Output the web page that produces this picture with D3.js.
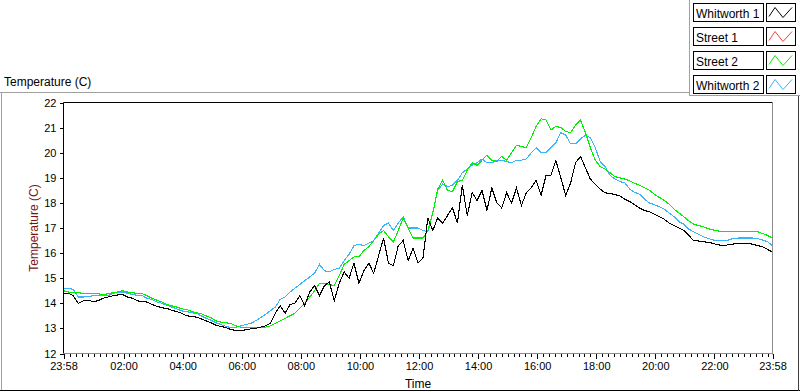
<!DOCTYPE html>
<html>
<head>
<meta charset="utf-8">
<script src="https://cdn.jsdelivr.net/npm/d3@7"></script>
<style>
  html, body { margin: 0; padding: 0; background: #fff; }
  svg { display: block; }
  .tick text { font-family: "Liberation Sans", Arial, sans-serif; font-size: 11px; fill: #000; }
</style>
</head>
<body>
<svg id="chart" width="800" height="392"></svg>
<script>
"use strict";

// ---- data (10 minute samples from 23:58) ----
const start_label = "23:58";
const step_minutes = 10;

const whitworth1 = [
  14.4, 14.4, 14.3, 14.0, 14.1, 14.12, 14.07, 14.1, 14.2, 14.25,
  14.3, 14.33, 14.35, 14.25, 14.2, 14.1, 14.07, 14.05, 13.95, 13.88,
  13.82, 13.8, 13.72, 13.67, 13.6, 13.5, 13.48, 13.45, 13.38, 13.3,
  13.22, 13.12, 13.08, 13.03, 12.95, 12.92, 12.9, 12.95, 12.98, 13.0,
  13.05, 13.1, 13.2, 13.6, 13.9, 13.6, 13.95, 14.0, 14.3, 13.9,
  14.45, 14.7, 14.3, 14.7, 14.85, 14.1, 14.8, 15.25, 15.0, 15.6,
  14.8, 15.3, 15.6, 15.2, 15.9, 16.6, 15.6, 15.5, 16.3, 16.5,
  15.7, 16.2, 15.6, 15.8, 17.4, 16.9, 17.4, 17.2, 17.5, 17.8,
  17.2, 18.7, 17.5, 18.4, 18.1, 18.5, 17.7, 18.6, 18.0, 17.8,
  18.4, 18.0, 18.6, 17.9, 18.4, 18.6, 18.9, 18.3, 19.1, 19.1,
  19.7, 19.0, 18.3, 18.8, 19.6, 19.85, 19.4, 18.95, 18.75, 18.55,
  18.4, 18.38, 18.33, 18.28, 18.15, 18.05, 17.92, 17.8, 17.7, 17.65,
  17.55, 17.45, 17.35, 17.2, 17.1, 17.0, 16.9, 16.7, 16.5, 16.48,
  16.45, 16.43, 16.38, 16.33, 16.3, 16.33, 16.36, 16.4, 16.4, 16.4,
  16.35, 16.3, 16.25, 16.15, 16.03
];

const street1 = [];   // in the legend, nothing visible in the plot

const street2 = [
  14.5, 14.45, 14.42, 14.42, 14.4, 14.4, 14.4, 14.38, 14.35, 14.38,
  14.42, 14.45, 14.5, 14.45, 14.42, 14.4, 14.38, 14.3, 14.2, 14.12,
  14.05, 13.95, 13.9, 13.85, 13.78, 13.75, 13.68, 13.63, 13.58, 13.5,
  13.42, 13.3, 13.25, 13.22, 13.2, 13.1, 13.05, 13.03, 13.03, 13.03,
  13.03, 13.05, 13.1, 13.2, 13.3, 13.4, 13.5, 13.6, 13.8, 14.0,
  14.25, 14.5, 14.8, 14.8, 14.75, 14.7, 15.1, 15.55, 15.7, 15.85,
  15.85, 16.1, 16.25, 16.5, 16.75, 16.9, 16.65, 16.45, 16.9, 17.4,
  17.0, 16.6, 16.6, 16.6, 16.9, 17.6, 18.55, 18.9, 18.5, 18.45,
  18.85, 18.9, 19.3, 19.6, 19.5, 19.7, 19.9, 19.7, 19.65, 19.85,
  19.7, 20.0, 20.3, 20.25, 20.2, 20.6, 21.05, 21.35, 21.3, 20.9,
  21.05, 21.0, 20.85, 20.8, 21.1, 21.3, 20.8, 20.2, 19.7, 19.45,
  19.35, 19.2, 19.05, 19.0, 18.95, 18.88, 18.78, 18.7, 18.6, 18.5,
  18.35, 18.22, 18.1, 17.95, 17.75, 17.6, 17.45, 17.28, 17.15, 17.1,
  17.05, 16.97, 16.92, 16.88, 16.87, 16.87, 16.87, 16.87, 16.87, 16.87,
  16.87, 16.85, 16.78, 16.7, 16.6
];

const whitworth2 = [
  14.6, 14.6, 14.55, 14.25, 14.25, 14.27, 14.3, 14.3, 14.3, 14.3,
  14.38, 14.45, 14.45, 14.4, 14.35, 14.32, 14.3, 14.2, 14.15, 14.05,
  14.0, 13.92, 13.85, 13.78, 13.7, 13.67, 13.62, 13.6, 13.5, 13.4,
  13.32, 13.22, 13.15, 13.08, 13.03, 13.05, 13.1, 13.15, 13.2, 13.3,
  13.42, 13.55, 13.7, 13.85, 14.15, 14.25, 14.45, 14.6, 14.75, 14.9,
  15.05, 15.2, 15.55, 15.3, 15.25, 15.35, 15.4, 15.7, 15.95, 16.3,
  16.35, 16.3, 16.4, 16.5, 16.8, 17.1, 17.2, 16.9, 17.2, 17.45,
  17.0, 17.0, 17.0, 16.9, 16.85, 17.6, 18.5, 18.75, 18.65, 18.7,
  18.9, 19.2, 19.35, 19.5, 19.6, 19.75, 19.6, 19.6, 19.7, 19.7,
  19.65, 19.6, 19.7, 19.7, 19.75, 20.0, 20.2, 20.0, 20.0, 20.2,
  20.4, 20.8, 20.7, 20.35, 20.35, 20.55, 20.7, 20.6, 20.2, 19.65,
  19.45, 19.1, 18.95, 18.85, 18.8, 18.55, 18.42, 18.35, 18.15, 18.0,
  17.93, 17.85, 17.75, 17.6, 17.45, 17.25, 17.15, 16.95, 16.85, 16.75,
  16.65, 16.58, 16.52, 16.5, 16.5, 16.52, 16.58, 16.6, 16.6, 16.6,
  16.6, 16.58, 16.52, 16.45, 16.3
];

const series_names = ["Whitworth 1", "Street 1", "Street 2", "Whitworth 2"];
const series_colors = ["#000000", "#ff3c3c", "#00f000", "#38b4ff"];
const x_tick_labels = ["23:58", "02:00", "04:00", "06:00", "08:00", "10:00", "12:00",
  "14:00", "16:00", "18:00", "20:00", "22:00", "23:58"];
const y_ticks = [12, 13, 14, 15, 16, 17, 18, 19, 20, 21, 22];

// ---- helpers ----
const to_date = function (label, next_day) {
  const p = label.split(":");
  return new Date(2000, 0, next_day ? 2 : 1, +p[0], +p[1]);
};
const t_start = to_date(start_label, false);
const t_end = to_date(start_label, true);
const t_at = i => new Date(t_start.getTime() + i * step_minutes * 60000);

// ---- layout ----
const svg = d3.select("#chart");
const chart_left = 63.5, chart_right = 772.5, chart_top = 102.5, chart_bottom = 353.5;

let x_scale = d3.scaleTime().domain([t_start, t_end]).range([chart_left, chart_right]);
let y_scale = d3.scaleLinear().domain([12, 22]).range([chart_bottom, chart_top]);

// outer panel borders
svg.append("line").attr("x1", 0).attr("x2", 689).attr("y1", 92.5).attr("y2", 92.5).attr("stroke", "#a0a0a0");
svg.append("line").attr("x1", 1.5).attr("x2", 1.5).attr("y1", 92).attr("y2", 391).attr("stroke", "#a0a0a0");
svg.append("line").attr("x1", 0).attr("x2", 800).attr("y1", 390.5).attr("y2", 390.5).attr("stroke", "#000");
svg.append("line").attr("x1", 798.5).attr("x2", 798.5).attr("y1", 96).attr("y2", 391).attr("stroke", "#404040");
svg.append("line").attr("x1", 689.5).attr("x2", 689.5).attr("y1", 0).attr("y2", 96).attr("stroke", "#a0a0a0");
svg.append("line").attr("x1", 689).attr("x2", 800).attr("y1", 95.5).attr("y2", 95.5).attr("stroke", "#a0a0a0");

// panel caption
svg.append("text")
  .attr("x", 4).attr("y", 86)
  .attr("font-family", "Liberation Sans, Arial, sans-serif")
  .attr("font-size", "12px")
  .text("Temperature (C)");

// plot frame: dark top/left, grey bottom/right
svg.append("line").attr("x1", chart_left).attr("x2", chart_right).attr("y1", chart_top).attr("y2", chart_top).attr("stroke", "#000");
svg.append("line").attr("x1", chart_left).attr("x2", chart_left).attr("y1", chart_top).attr("y2", chart_bottom).attr("stroke", "#000");
svg.append("line").attr("x1", chart_right).attr("x2", chart_right).attr("y1", chart_top).attr("y2", chart_bottom + 1).attr("stroke", "#8c8c8c");
svg.append("line").attr("x1", chart_left).attr("x2", chart_right).attr("y1", chart_bottom).attr("y2", chart_bottom).attr("stroke", "#8c8c8c");

svg.append("clipPath").attr("id", "plot-area").append("rect")
  .attr("x", chart_left).attr("y", chart_top).attr("width", chart_right - chart_left).attr("height", chart_bottom - chart_top);

// Axes
const y_axis = svg.append("g")
  .attr("transform", "translate(" + chart_left + ",0)")
  .call(d3.axisLeft(y_scale).tickValues(y_ticks).tickSize(4).tickPadding(3).tickFormat(d3.format("d")));
y_axis.select(".domain").remove();

// minor ticks every 12 minutes
const minor_ticks = d3.timeMinute.every(12).range(t_start, t_end);
const x_minor = svg.append("g")
  .attr("transform", "translate(0," + chart_bottom + ")")
  .call(d3.axisBottom(x_scale).tickValues(minor_ticks).tickSize(3).tickFormat(""));
x_minor.select(".domain").remove();

const x_major_vals = x_tick_labels.map((l, i) => to_date(l, i > 0));
const x_axis = svg.append("g")
  .attr("transform", "translate(0," + chart_bottom + ")")
  .call(d3.axisBottom(x_scale).tickValues(x_major_vals).tickSize(5).tickPadding(4)
    .tickFormat((d, i) => x_tick_labels[i]));
x_axis.select(".domain").remove();
svg.selectAll(".tick line").attr("stroke", "#000").attr("shape-rendering", "crispEdges");

// axis titles
svg.append("text")
  .attr("transform", "translate(38," + ((chart_top + chart_bottom) / 2) + ") rotate(-90)")
  .attr("text-anchor", "middle")
  .attr("font-family", "Liberation Sans, Arial, sans-serif")
  .attr("font-size", "12px")
  .attr("fill", "#7a1414")
  .text("Temperature (C)");

svg.append("text")
  .attr("x", (chart_left + chart_right) / 2).attr("y", 388)
  .attr("text-anchor", "middle")
  .attr("font-family", "Liberation Sans, Arial, sans-serif")
  .attr("font-size", "12px")
  .text("Time");

// ---- plots ----
const all_series = [whitworth1, street1, street2, whitworth2];
const line_gen = d3.line().x((d, i) => x_scale(t_at(i))).y(d => y_scale(d));
const draw_order = [3, 2, 1, 0];

const plot_g = svg.append("g").attr("clip-path", "url(#plot-area)");
for (let k of draw_order) {
  if (all_series[k].length === 0) continue;
  plot_g.append("path")
    .datum(all_series[k])
    .attr("fill", "none")
    .attr("stroke", series_colors[k])
    .attr("stroke-width", 1.1)
    .attr("shape-rendering", "crispEdges")
    .attr("d", line_gen);
}

// ---- legend ----
const legend = svg.append("g").attr("class", "legend");
series_names.forEach(function (name, i) {
  const top = 3.5 + i * 24;
  legend.append("rect")
    .attr("x", 693.5).attr("y", top).attr("width", 70).attr("height", 18)
    .attr("fill", "#fff").attr("stroke", "#000");
  legend.append("text")
    .attr("x", 696).attr("y", top + 14)
    .attr("font-family", "Liberation Sans, Arial, sans-serif")
    .attr("font-size", "12px")
    .text(name);
  legend.append("rect")
    .attr("x", 766.5).attr("y", top).attr("width", 29).attr("height", 18)
    .attr("fill", "#fff").attr("stroke", "#000");
  const zig = [[769, top + 13], [775, top + 4], [783, top + 14], [792, top + 4]];
  legend.append("path")
    .attr("d", d3.line()(zig))
    .attr("fill", "none")
    .attr("stroke", series_colors[i])
    .attr("stroke-width", 1);
});
</script>
</body>
</html>
